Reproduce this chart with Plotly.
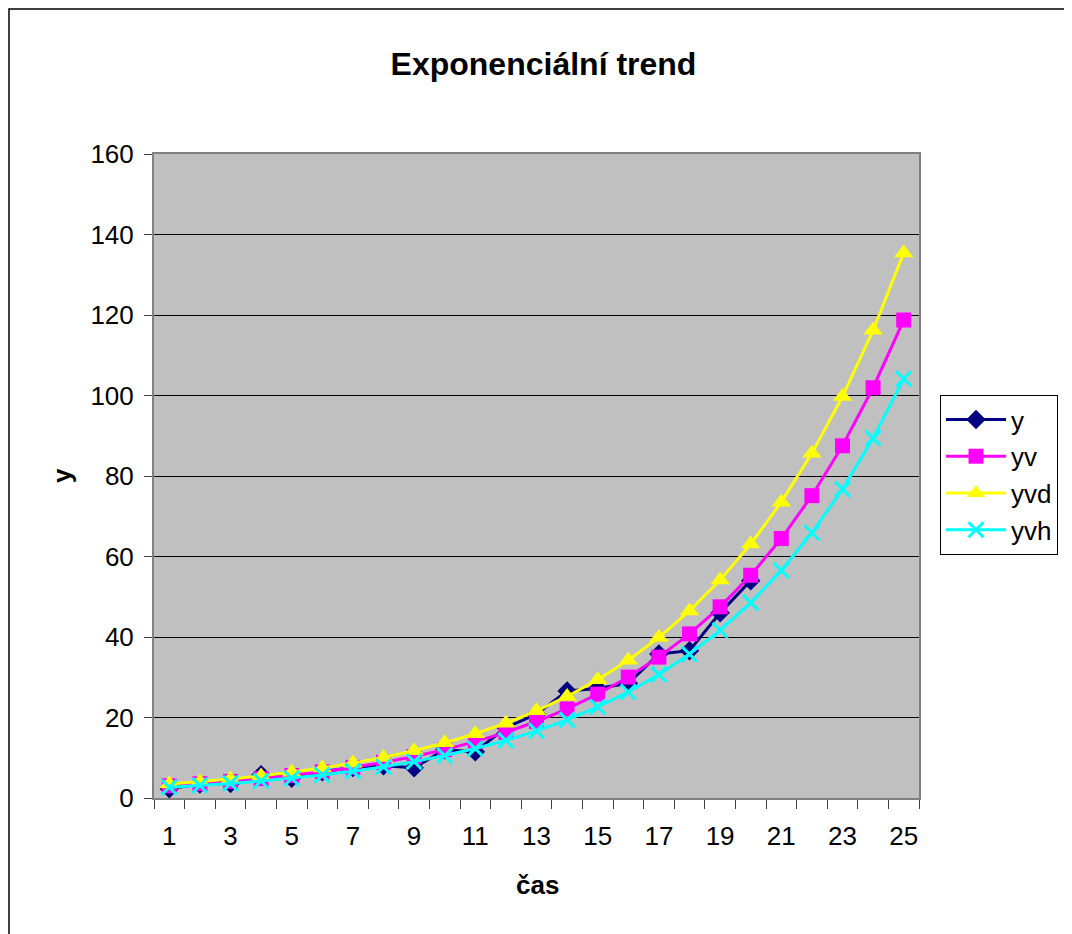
import plotly.graph_objects as go

# ---- data ----
t_all = list(range(1, 26))
t_obs = list(range(1, 21))
y_obs = [2.3, 3.5, 3.6, 5.8, 4.9, 6.5, 7.6, 8.0, 7.5, 12.0,
         11.5, 17.5, 20.8, 26.6, 27.2, 28.5, 35.8, 36.6, 46.0, 54.0]
yv = [3.04, 3.54, 4.13, 4.81, 5.60, 6.52, 7.60, 8.85, 10.31, 12.02,
      14.00, 16.31, 19.00, 22.13, 25.79, 30.04, 35.00, 40.77, 47.50, 55.34,
      64.47, 75.11, 87.50, 101.93, 118.75]
yvd = [3.47, 4.04, 4.71, 5.48, 6.38, 7.43, 8.66, 10.09, 11.75, 13.70,
       15.96, 18.59, 21.66, 25.23, 29.40, 34.25, 39.90, 46.48, 54.15, 63.09,
       73.50, 85.63, 99.75, 116.20, 135.38]
yvh = [2.67, 3.11, 3.62, 4.22, 4.91, 5.72, 6.67, 7.76, 9.04, 10.54,
       12.28, 14.31, 16.67, 19.41, 22.62, 26.35, 30.70, 35.76, 41.67, 48.54,
       56.55, 65.89, 76.75, 89.41, 104.17]
x_tick_vals = [1, 3, 5, 7, 9, 11, 13, 15, 17, 19, 21, 23, 25]
x_tick_text = ["1", "3", "5", "7", "9", "11", "13", "15", "17", "19", "21", "23", "25"]
x_boundaries = [i + 0.5 for i in range(0, 26)]
y_ticks = [0, 20, 40, 60, 80, 100, 120, 140, 160]

FONT = "Liberation Sans, Arial, sans-serif"

# page body has an 8px margin; geometry below compensates for it
OFF = 8
PL, PT, PW, PH = 154 - OFF, 154 - OFF, 765, 644
FW, FH = 1072 - OFF, 934 - OFF


def px(x):
    return (x - OFF - PL) / PW


def py(y):
    return 1 - (y - OFF - PT) / PH


fig = go.Figure()
fig.add_trace(go.Scatter(
    x=t_obs, y=y_obs, name="y", mode="lines+markers",
    line=dict(color="#000080", width=3),
    marker=dict(symbol="diamond", size=15, color="#000080")))
fig.add_trace(go.Scatter(
    x=t_all, y=yv, name="yv", mode="lines+markers",
    line=dict(color="#FF00FF", width=3),
    marker=dict(symbol="square", size=15, color="#FF00FF")))
fig.add_trace(go.Scatter(
    x=t_all, y=yvd, name="yvd", mode="lines+markers",
    line=dict(color="#FFFF00", width=3),
    marker=dict(symbol="triangle-up", size=17, color="#FFFF00")))
fig.add_trace(go.Scatter(
    x=t_all, y=yvh, name="yvh", mode="lines+markers",
    line=dict(color="#00FFFF", width=3),
    marker=dict(symbol="x-thin", size=15, color="#00FFFF",
                line=dict(color="#00FFFF", width=3))))

fig.update_layout(
    width=FW, height=FH,
    margin=dict(l=PL, r=FW - PL - PW, t=PT, b=FH - PT - PH),
    paper_bgcolor="white",
    plot_bgcolor="#C0C0C0",
    font=dict(family=FONT, size=26, color="black"),
    title=dict(text="<b>Exponenciální trend</b>", font=dict(size=32, family=FONT),
               x=px(543.5), xref="paper", xanchor="center",
               y=1 - (64 - OFF) / FH, yref="container", yanchor="middle"),
    showlegend=True,
    legend=dict(x=px(940), y=py(395), xanchor="left", yanchor="top",
                bgcolor="white", bordercolor="black", borderwidth=1,
                itemwidth=60,
                font=dict(size=26, family=FONT)),
    xaxis=dict(range=[0.5, 25.5], tickmode="array",
               tickvals=x_tick_vals, ticktext=x_tick_text,
               ticks="", showgrid=False, zeroline=False,
               showline=True, linecolor="#808080", linewidth=2, mirror=True,
               ticklabelstandoff=14,
               minor=dict(tickmode="array", tickvals=x_boundaries,
                          ticks="outside", ticklen=9, tickcolor="#404040",
                          tickwidth=1, showgrid=False)),
    yaxis=dict(range=[0, 160], tickmode="array", tickvals=y_ticks,
               ticks="outside", ticklen=8, tickcolor="#404040",
               showgrid=True, gridcolor="black", gridwidth=1,
               zeroline=False, ticklabelstandoff=5,
               showline=True, linecolor="#808080", linewidth=2, mirror=True),
    annotations=[
        dict(text="<b>y</b>", xref="paper", yref="paper",
             x=px(62), y=py(476), xanchor="center", yanchor="middle",
             textangle=-90, showarrow=False, font=dict(size=26, family=FONT)),
        dict(text="<b>čas</b>", xref="paper", yref="paper",
             x=px(537), y=py(885), xanchor="center",
             yanchor="middle", showarrow=False, font=dict(size=26, family=FONT)),
    ],
    shapes=[
        # outer chart frame (left edge pinned to the figure's left border)
        dict(type="rect", xref="paper", yref="paper",
             x0=px(OFF + 1), x1=px(1085), y0=py(945), y1=py(9),
             line=dict(color="black", width=1.5)),
    ],
)

fig.write_html("out.html")
